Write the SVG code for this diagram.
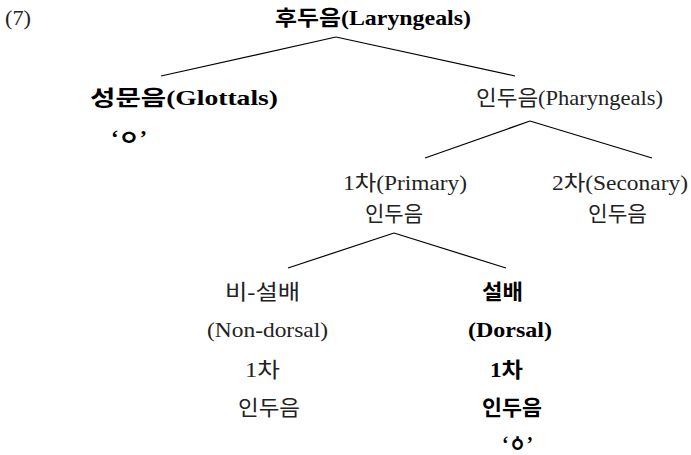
<svg xmlns="http://www.w3.org/2000/svg" width="691" height="455" viewBox="0 0 691 455">
<style>
text{font-family:"Liberation Serif","Noto Sans CJK KR",serif;font-size:21px;fill:#222}
.b{font-weight:bold;fill:#000}
.e{stroke:#000;stroke-width:1.2;fill:none}
</style>
<rect width="691" height="455" fill="#fff"/>
<text x="5" y="25" textLength="26" lengthAdjust="spacingAndGlyphs">(7)</text>
<g id="edges">
<line class="e" x1="336" y1="37" x2="161" y2="76"/>
<line class="e" x1="336" y1="37" x2="515" y2="76"/>
<line class="e" x1="530" y1="121" x2="425" y2="158"/>
<line class="e" x1="530" y1="121" x2="652" y2="158"/>
<line class="e" x1="394" y1="233" x2="288" y2="268"/>
<line class="e" x1="394" y1="233" x2="506" y2="268"/>
</g>
<g id="laryngeals"><text class="b" x="275" y="25" textLength="196" lengthAdjust="spacingAndGlyphs">후두음(Laryngeals)</text></g>
<g id="glottals">
<text class="b" x="90" y="105" textLength="188" lengthAdjust="spacingAndGlyphs">성문음(Glottals)</text>
<text class="b" x="111" y="145" textLength="36" lengthAdjust="spacingAndGlyphs">‘ㅇ’</text>
</g>
<g id="pharyngeals"><text x="476" y="105" textLength="187" lengthAdjust="spacingAndGlyphs">인두음(Pharyngeals)</text></g>
<g id="primary">
<text x="343" y="190" textLength="124" lengthAdjust="spacingAndGlyphs">1차(Primary)</text>
<text x="365" y="221" textLength="58" lengthAdjust="spacingAndGlyphs">인두음</text>
</g>
<g id="secondary">
<text x="552" y="190" textLength="136" lengthAdjust="spacingAndGlyphs">2차(Seconary)</text>
<text x="588" y="221" textLength="59" lengthAdjust="spacingAndGlyphs">인두음</text>
</g>
<g id="nondorsal">
<text x="225" y="299" textLength="75" lengthAdjust="spacingAndGlyphs">비-설배</text>
<text x="207" y="337" textLength="121" lengthAdjust="spacingAndGlyphs">(Non-dorsal)</text>
<text x="245" y="377" textLength="35" lengthAdjust="spacingAndGlyphs">1차</text>
<text x="238" y="415" textLength="62" lengthAdjust="spacingAndGlyphs">인두음</text>
</g>
<g id="dorsal">
<text class="b" x="482" y="299" textLength="41" lengthAdjust="spacingAndGlyphs">설배</text>
<text class="b" x="468" y="337" textLength="84" lengthAdjust="spacingAndGlyphs">(Dorsal)</text>
<text class="b" x="490" y="377" textLength="33" lengthAdjust="spacingAndGlyphs">1차</text>
<text class="b" x="482" y="415" textLength="60" lengthAdjust="spacingAndGlyphs">인두음</text>
<text class="b" x="502" y="451" textLength="31" lengthAdjust="spacingAndGlyphs">‘ㆁ’</text>
</g>
</svg>
